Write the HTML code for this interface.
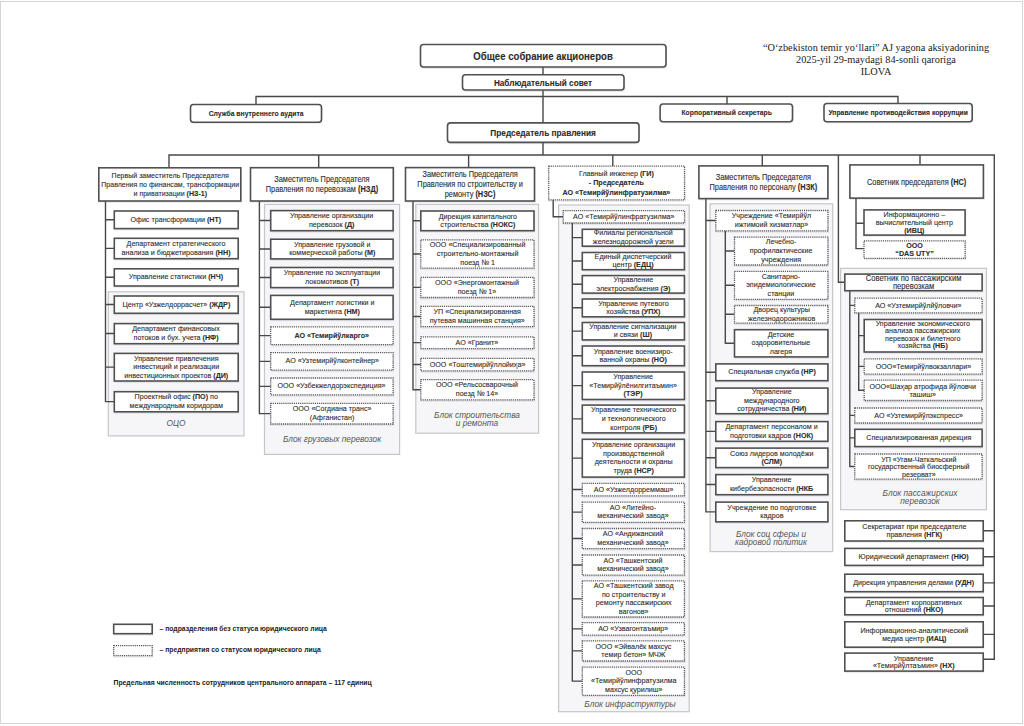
<!DOCTYPE html>
<html><head><meta charset="utf-8"><title>Org chart</title><style>
*{margin:0;padding:0;box-sizing:border-box}
html,body{width:1024px;height:726px;overflow:hidden;background:#fff}
body{position:relative;font-family:"Liberation Sans",sans-serif;color:#2e2e2e}
#pg{position:absolute;left:0;top:1px;width:1023px;height:723px;border:1px solid #d4d4d4;border-top-width:1.5px}
.l{position:absolute}
#sv{position:absolute;left:0;top:0}
.g{fill:#f6f6f8;stroke:#c6c6ca;stroke-width:1.2}
.ln{fill:none;stroke:#484848;stroke-width:1.4}
.sh{fill:rgba(90,90,130,0.13);stroke:none}
.bs,.br{fill:#fff;stroke:#505050;stroke-width:1.6}
.bd{fill:#fff;stroke:#5a5a5a;stroke-width:1.3;stroke-dasharray:1.2 0.9}
.gl{position:absolute;text-align:center;font-style:italic;font-size:8px;color:#555;white-space:nowrap}
.b{position:absolute;display:flex;align-items:center;justify-content:center}
.t{text-align:center;white-space:nowrap;color:#2a2a2a;-webkit-text-stroke:0.12px #444}
.t b{font-weight:bold}
.lg{position:absolute;font-size:6.8px;font-weight:bold;white-space:nowrap;color:#222;line-height:8px}
.sf{position:absolute;font-family:"Liberation Serif",serif;font-size:10.3px;line-height:12px;text-align:center;white-space:nowrap;color:#222}
</style></head><body><div id="pg"></div>
<svg id="sv" width="1024" height="726" viewBox="0 0 1024 726"><rect x="108.30" y="291.80" width="135.70" height="144.10" class="g"/><rect x="264.50" y="204.40" width="135.10" height="250.00" class="g"/><rect x="415.80" y="204.40" width="122.80" height="228.80" class="g"/><rect x="558.60" y="205.00" width="130.60" height="506.70" class="g"/><rect x="710.10" y="203.80" width="122.60" height="347.80" class="g"/><rect x="840.60" y="268.30" width="145.90" height="241.40" class="g"/><path class="ln" d="M543.00 66.40V74.60M543.00 89.40V123.00M543.00 142.10V155.60M255.40 96.50H898.60M256.00 95.90V104.60M727.00 95.90V104.10M898.00 95.90V103.60M168.40 155.00H994.90M169.00 154.40V167.90M318.70 154.40V167.80M468.60 154.40V167.70M612.80 154.40V166.20M762.30 154.40V166.00M920.00 154.40V165.00M105.50 200.70V402.30M104.90 219.70H114.40M104.90 248.40H114.40M104.90 277.30H114.40M104.90 304.55H114.40M104.90 333.55H114.40M104.90 367.10H114.40M104.90 401.65H114.40M259.40 200.70V414.20M258.80 220.55H270.80M258.80 248.95H270.80M258.80 277.45H270.80M258.80 307.25H270.80M258.80 335.65H270.80M258.80 361.35H270.80M258.80 386.35H270.80M258.80 413.60H270.80M413.00 200.70V390.30M412.40 220.75H420.90M412.40 253.95H420.90M412.40 287.35H420.90M412.40 316.45H420.90M412.40 342.65H420.90M412.40 364.50H420.90M412.40 389.70H420.90M553.20 199.60V217.30M552.60 216.70H563.30M572.30 222.70V681.70M571.70 237.65H582.40M571.70 261.00H582.40M571.70 284.25H582.40M571.70 307.80H582.40M571.70 331.10H582.40M571.70 355.75H582.40M571.70 385.65H582.40M571.70 418.90H582.40M571.70 458.10H582.40M571.70 489.50H582.40M571.70 512.10H582.40M571.70 538.50H582.40M571.70 565.00H582.40M571.70 598.85H582.40M571.70 628.85H582.40M571.70 650.85H582.40M571.70 681.10H582.40M705.90 198.30V512.45M705.30 220.50H715.90M725.30 230.50V343.60M724.70 250.95H734.60M724.70 285.20H734.60M724.70 314.25H734.60M724.70 343.20H734.60M705.30 372.20H715.90M705.30 400.80H715.90M705.30 431.35H715.90M705.30 457.75H715.90M705.30 484.55H715.90M705.30 511.85H715.90M838.40 154.40V282.90M837.80 282.30H844.90M994.30 154.40V659.80M856.00 197.80V249.20M855.40 223.30H864.10M855.40 248.60H864.10M849.80 290.40V466.90M858.70 312.50V390.85M849.20 305.35H854.90M849.20 415.40H854.90M849.20 437.85H854.90M849.20 466.50H854.90M858.10 335.65H864.30M858.10 366.35H864.30M858.10 390.25H864.30M983.10 530.80H994.90M983.10 556.80H994.90M983.10 582.85H994.90M983.10 606.05H994.90M983.10 634.40H994.90M983.10 659.20H994.90"/><rect x="420.60" y="45.60" width="246.50" height="23.30" class="sh" rx="3"/><rect x="420.50" y="44.50" width="245.50" height="22.50" class="br" rx="3"/><rect x="462.60" y="75.90" width="162.50" height="16.00" class="sh" rx="3"/><rect x="462.50" y="74.80" width="161.50" height="15.20" class="br" rx="3"/><rect x="190.60" y="105.60" width="132.00" height="18.50" class="sh" rx="3"/><rect x="190.50" y="104.50" width="131.00" height="17.70" class="br" rx="3"/><rect x="660.20" y="105.10" width="133.40" height="18.50" class="sh" rx="3"/><rect x="660.10" y="104.00" width="132.40" height="17.70" class="br" rx="3"/><rect x="824.10" y="104.60" width="149.20" height="19.00" class="sh" rx="3"/><rect x="824.00" y="103.50" width="148.20" height="18.20" class="br" rx="3"/><rect x="447.60" y="124.00" width="192.50" height="20.30" class="sh" rx="3"/><rect x="447.50" y="122.90" width="191.50" height="19.50" class="br" rx="3"/><rect x="114.40" y="212.10" width="124.90" height="18.40" class="sh"/><rect x="114.30" y="211.00" width="123.90" height="17.60" class="bs"/><rect x="114.40" y="239.40" width="124.90" height="21.20" class="sh"/><rect x="114.30" y="238.30" width="123.90" height="20.40" class="bs"/><rect x="114.40" y="269.90" width="124.90" height="18.00" class="sh"/><rect x="114.30" y="268.80" width="123.90" height="17.20" class="bs"/><rect x="114.40" y="297.10" width="124.90" height="18.10" class="sh"/><rect x="114.30" y="296.00" width="123.90" height="17.30" class="bs"/><rect x="114.40" y="324.70" width="124.90" height="20.90" class="sh"/><rect x="114.30" y="323.60" width="123.90" height="20.10" class="bs"/><rect x="114.40" y="354.50" width="124.90" height="28.40" class="sh"/><rect x="114.30" y="353.40" width="123.90" height="27.60" class="bs"/><rect x="114.40" y="392.80" width="124.90" height="20.90" class="sh"/><rect x="114.30" y="391.70" width="123.90" height="20.10" class="bs"/><rect x="98.90" y="168.90" width="143.00" height="34.00" class="sh"/><rect x="98.80" y="167.80" width="142.00" height="33.20" class="bs"/><rect x="270.80" y="211.70" width="123.40" height="20.90" class="sh"/><rect x="270.70" y="210.60" width="122.40" height="20.10" class="bs"/><rect x="270.80" y="240.30" width="123.40" height="20.50" class="sh"/><rect x="270.70" y="239.20" width="122.40" height="19.70" class="bs"/><rect x="270.80" y="268.60" width="123.40" height="20.90" class="sh"/><rect x="270.70" y="267.50" width="122.40" height="20.10" class="bs"/><rect x="270.80" y="296.50" width="123.40" height="24.70" class="sh"/><rect x="270.70" y="295.40" width="122.40" height="23.90" class="bs"/><rect x="270.80" y="328.00" width="123.40" height="18.50" class="sh"/><rect x="270.70" y="326.90" width="122.40" height="17.70" class="bd"/><rect x="270.80" y="353.80" width="123.40" height="18.30" class="sh"/><rect x="270.70" y="352.70" width="122.40" height="17.50" class="bd"/><rect x="270.80" y="379.10" width="123.40" height="17.70" class="sh"/><rect x="270.70" y="378.00" width="122.40" height="16.90" class="bd"/><rect x="270.80" y="404.50" width="123.40" height="21.40" class="sh"/><rect x="270.70" y="403.40" width="122.40" height="20.60" class="bd"/><rect x="250.60" y="168.80" width="143.80" height="34.10" class="sh"/><rect x="250.50" y="167.70" width="142.80" height="33.30" class="bs"/><rect x="420.90" y="212.10" width="114.20" height="20.50" class="sh"/><rect x="420.80" y="211.00" width="113.20" height="19.70" class="bs"/><rect x="420.90" y="241.00" width="114.20" height="29.10" class="sh"/><rect x="420.80" y="239.90" width="113.20" height="28.30" class="bd"/><rect x="420.90" y="278.50" width="114.20" height="20.90" class="sh"/><rect x="420.80" y="277.40" width="113.20" height="20.10" class="bd"/><rect x="420.90" y="307.50" width="114.20" height="21.10" class="sh"/><rect x="420.80" y="306.40" width="113.20" height="20.30" class="bd"/><rect x="420.90" y="337.90" width="114.20" height="12.70" class="sh"/><rect x="420.80" y="336.80" width="113.20" height="11.90" class="bd"/><rect x="420.90" y="359.50" width="114.20" height="13.20" class="sh"/><rect x="420.80" y="358.40" width="113.20" height="12.40" class="bd"/><rect x="420.90" y="380.80" width="114.20" height="21.00" class="sh"/><rect x="420.80" y="379.70" width="113.20" height="20.20" class="bd"/><rect x="405.60" y="168.70" width="130.00" height="34.20" class="sh"/><rect x="405.50" y="167.60" width="129.00" height="33.40" class="bs"/><rect x="563.30" y="211.70" width="122.30" height="13.20" class="sh"/><rect x="563.20" y="210.60" width="121.30" height="12.40" class="bd"/><rect x="582.40" y="230.40" width="103.10" height="17.70" class="sh"/><rect x="582.30" y="229.30" width="102.10" height="16.90" class="bs"/><rect x="582.40" y="253.60" width="103.10" height="18.00" class="sh"/><rect x="582.30" y="252.50" width="102.10" height="17.20" class="bs"/><rect x="582.40" y="276.70" width="103.10" height="18.30" class="sh"/><rect x="582.30" y="275.60" width="102.10" height="17.50" class="bs"/><rect x="582.40" y="300.10" width="103.10" height="18.60" class="sh"/><rect x="582.30" y="299.00" width="102.10" height="17.80" class="bs"/><rect x="582.40" y="323.60" width="103.10" height="18.20" class="sh"/><rect x="582.30" y="322.50" width="102.10" height="17.40" class="bs"/><rect x="582.40" y="347.10" width="103.10" height="20.50" class="sh"/><rect x="582.30" y="346.00" width="102.10" height="19.70" class="bs"/><rect x="582.40" y="373.10" width="103.10" height="28.30" class="sh"/><rect x="582.30" y="372.00" width="102.10" height="27.50" class="bs"/><rect x="582.40" y="406.20" width="103.10" height="28.60" class="sh"/><rect x="582.30" y="405.10" width="102.10" height="27.80" class="bs"/><rect x="582.40" y="440.40" width="103.10" height="38.60" class="sh"/><rect x="582.30" y="439.30" width="102.10" height="37.80" class="bs"/><rect x="582.40" y="484.50" width="103.10" height="13.20" class="sh"/><rect x="582.30" y="483.40" width="102.10" height="12.40" class="bd"/><rect x="582.40" y="503.20" width="103.10" height="21.00" class="sh"/><rect x="582.30" y="502.10" width="102.10" height="20.20" class="bd"/><rect x="582.40" y="529.60" width="103.10" height="21.00" class="sh"/><rect x="582.30" y="528.50" width="102.10" height="20.20" class="bd"/><rect x="582.40" y="556.10" width="103.10" height="21.00" class="sh"/><rect x="582.30" y="555.00" width="102.10" height="20.20" class="bd"/><rect x="582.40" y="582.00" width="103.10" height="36.90" class="sh"/><rect x="582.30" y="580.90" width="102.10" height="36.10" class="bd"/><rect x="582.40" y="623.80" width="103.10" height="13.30" class="sh"/><rect x="582.30" y="622.70" width="102.10" height="12.50" class="bd"/><rect x="582.40" y="642.00" width="103.10" height="20.90" class="sh"/><rect x="582.30" y="640.90" width="102.10" height="20.10" class="bd"/><rect x="582.40" y="668.20" width="103.10" height="29.00" class="sh"/><rect x="582.30" y="667.10" width="102.10" height="28.20" class="bd"/><rect x="548.80" y="167.20" width="136.80" height="34.60" class="sh"/><rect x="548.70" y="166.10" width="135.80" height="33.80" class="bd"/><rect x="715.90" y="211.60" width="113.10" height="21.10" class="sh"/><rect x="715.80" y="210.50" width="112.10" height="20.30" class="bd"/><rect x="734.60" y="238.20" width="94.40" height="28.70" class="sh"/><rect x="734.50" y="237.10" width="93.40" height="27.90" class="bd"/><rect x="734.60" y="272.40" width="94.40" height="28.80" class="sh"/><rect x="734.50" y="271.30" width="93.40" height="28.00" class="bd"/><rect x="734.60" y="306.60" width="94.40" height="18.50" class="sh"/><rect x="734.50" y="305.50" width="93.40" height="17.70" class="bd"/><rect x="734.60" y="330.80" width="94.40" height="28.00" class="sh"/><rect x="734.50" y="329.70" width="93.40" height="27.20" class="bs"/><rect x="715.90" y="365.00" width="113.10" height="17.60" class="sh"/><rect x="715.80" y="363.90" width="112.10" height="16.80" class="bs"/><rect x="715.90" y="389.20" width="113.10" height="26.40" class="sh"/><rect x="715.80" y="388.10" width="112.10" height="25.60" class="bs"/><rect x="715.90" y="422.70" width="113.10" height="20.50" class="sh"/><rect x="715.80" y="421.60" width="112.10" height="19.70" class="bs"/><rect x="715.90" y="449.20" width="113.10" height="20.30" class="sh"/><rect x="715.80" y="448.10" width="112.10" height="19.50" class="bs"/><rect x="715.90" y="475.70" width="113.10" height="20.90" class="sh"/><rect x="715.80" y="474.60" width="112.10" height="20.10" class="bs"/><rect x="715.90" y="503.20" width="113.10" height="20.50" class="sh"/><rect x="715.80" y="502.10" width="112.10" height="19.70" class="bs"/><rect x="699.00" y="167.00" width="130.00" height="33.50" class="sh"/><rect x="698.90" y="165.90" width="129.00" height="32.70" class="bs"/><rect x="850.00" y="166.00" width="134.50" height="34.00" class="sh"/><rect x="849.90" y="164.90" width="133.50" height="33.20" class="bs"/><rect x="864.10" y="211.00" width="102.10" height="26.00" class="sh"/><rect x="864.00" y="209.90" width="101.10" height="25.20" class="bs"/><rect x="864.10" y="241.90" width="102.10" height="18.30" class="sh"/><rect x="864.00" y="240.80" width="101.10" height="17.50" class="bd"/><rect x="844.90" y="275.20" width="138.30" height="17.40" class="sh"/><rect x="844.80" y="274.10" width="137.30" height="16.60" class="bs"/><rect x="854.90" y="299.20" width="128.30" height="15.50" class="sh"/><rect x="854.80" y="298.10" width="127.30" height="14.70" class="bd"/><rect x="854.90" y="409.10" width="128.30" height="15.80" class="sh"/><rect x="854.80" y="408.00" width="127.30" height="15.00" class="bd"/><rect x="854.90" y="430.40" width="128.30" height="18.10" class="sh"/><rect x="854.80" y="429.30" width="127.30" height="17.30" class="bs"/><rect x="854.90" y="455.10" width="128.30" height="26.00" class="sh"/><rect x="854.80" y="454.00" width="127.30" height="25.20" class="bd"/><rect x="864.30" y="320.60" width="118.90" height="33.30" class="sh"/><rect x="864.20" y="319.50" width="117.90" height="32.50" class="bs"/><rect x="864.30" y="359.90" width="118.90" height="16.10" class="sh"/><rect x="864.20" y="358.80" width="117.90" height="15.30" class="bd"/><rect x="864.30" y="381.30" width="118.90" height="21.10" class="sh"/><rect x="864.20" y="380.20" width="117.90" height="20.30" class="bd"/><rect x="844.90" y="521.90" width="139.40" height="21.00" class="sh"/><rect x="844.80" y="520.80" width="138.40" height="20.20" class="bs"/><rect x="844.90" y="549.50" width="139.40" height="17.80" class="sh"/><rect x="844.80" y="548.40" width="138.40" height="17.00" class="bs"/><rect x="844.90" y="575.30" width="139.40" height="18.30" class="sh"/><rect x="844.80" y="574.20" width="138.40" height="17.50" class="bs"/><rect x="844.90" y="598.60" width="139.40" height="18.10" class="sh"/><rect x="844.80" y="597.50" width="138.40" height="17.30" class="bs"/><rect x="844.90" y="622.90" width="139.40" height="26.20" class="sh"/><rect x="844.80" y="621.80" width="138.40" height="25.40" class="bs"/><rect x="844.90" y="654.20" width="139.40" height="18.80" class="sh"/><rect x="844.80" y="653.10" width="138.40" height="18.00" class="bs"/><rect x="113.80" y="625.40" width="39.50" height="10.20" class="sh"/><rect x="113.70" y="624.30" width="38.50" height="9.40" class="bs"/><rect x="113.80" y="646.80" width="39.50" height="10.80" class="sh"/><rect x="113.70" y="645.70" width="38.50" height="10.00" class="bd"/></svg>
<div class="b" style="left:420.00px;top:44.00px;width:246.50px;height:23.30px;"><div class="t" style="font-size:10.752px;line-height:11px;font-weight:bold;position:relative;top:0.40px;transform:scaleX(0.8928571428571428);"><div>Общее собрание акционеров</div></div></div>
<div class="b" style="left:462.00px;top:74.30px;width:162.50px;height:16.00px;"><div class="t" style="font-size:9.184px;line-height:10px;font-weight:bold;position:relative;top:0.40px;transform:scaleX(0.8928571428571428);"><div>Наблюдательный совет</div></div></div>
<div class="b" style="left:190.00px;top:104.00px;width:132.00px;height:18.50px;"><div class="t" style="font-size:7.6160000000000005px;line-height:8px;font-weight:bold;position:relative;top:0.40px;transform:scaleX(0.8928571428571428);"><div>Служба внутреннего аудита</div></div></div>
<div class="b" style="left:659.60px;top:103.50px;width:133.40px;height:18.50px;"><div class="t" style="font-size:7.6160000000000005px;line-height:8px;font-weight:bold;position:relative;top:0.40px;transform:scaleX(0.8928571428571428);"><div>Корпоративный секретарь</div></div></div>
<div class="b" style="left:823.50px;top:103.00px;width:149.20px;height:19.00px;"><div class="t" style="font-size:7.6160000000000005px;line-height:8px;font-weight:bold;position:relative;top:0.40px;transform:scaleX(0.8928571428571428);"><div>Управление противодействия коррупции</div></div></div>
<div class="b" style="left:447.00px;top:122.40px;width:192.50px;height:20.30px;"><div class="t" style="font-size:9.296000000000001px;line-height:10px;font-weight:bold;position:relative;top:0.40px;transform:scaleX(0.8928571428571428);"><div>Председатель правления</div></div></div>
<div class="gl" style="left:96px;top:418.60px;width:160px;line-height:8.2px;font-size:9.30px;transform:scaleX(0.8929)"><div>ОЦО</div></div>
<div class="b" style="left:113.80px;top:210.50px;width:124.90px;height:18.40px;"><div class="t" style="font-size:8.008000000000001px;line-height:8.6px;position:relative;top:0.40px;transform:scaleX(0.8928571428571428);"><div>Офис трансформации <b>(НТ)</b></div></div></div>
<div class="b" style="left:113.80px;top:237.80px;width:124.90px;height:21.20px;"><div class="t" style="font-size:8.008000000000001px;line-height:8.6px;position:relative;top:0.40px;transform:scaleX(0.8928571428571428);"><div>Департамент стратегического</div><div>анализа и бюджетирования <b>(НН)</b></div></div></div>
<div class="b" style="left:113.80px;top:268.30px;width:124.90px;height:18.00px;"><div class="t" style="font-size:8.008000000000001px;line-height:8.6px;position:relative;top:0.40px;transform:scaleX(0.8928571428571428);"><div>Управление статистики <b>(НЧ)</b></div></div></div>
<div class="b" style="left:113.80px;top:295.50px;width:124.90px;height:18.10px;"><div class="t" style="font-size:8.008000000000001px;line-height:8.6px;position:relative;top:0.40px;transform:scaleX(0.8928571428571428);"><div>Центр «Узжелдоррасчет» <b>(ЖДР)</b></div></div></div>
<div class="b" style="left:113.80px;top:323.10px;width:124.90px;height:20.90px;"><div class="t" style="font-size:8.008000000000001px;line-height:8.6px;position:relative;top:0.40px;transform:scaleX(0.8928571428571428);"><div>Департамент финансовых</div><div>потоков и бух. учета <b>(НФ)</b></div></div></div>
<div class="b" style="left:113.80px;top:352.90px;width:124.90px;height:28.40px;"><div class="t" style="font-size:8.008000000000001px;line-height:8.6px;position:relative;top:0.40px;transform:scaleX(0.8928571428571428);"><div>Управление привлечения</div><div>инвестиций и реализации</div><div>инвестиционных проектов <b>(ДИ)</b></div></div></div>
<div class="b" style="left:113.80px;top:391.20px;width:124.90px;height:20.90px;"><div class="t" style="font-size:8.008000000000001px;line-height:8.6px;position:relative;top:0.40px;transform:scaleX(0.8928571428571428);"><div>Проектный офис <b>(ПО)</b> по</div><div>международным коридорам</div></div></div>
<div class="b" style="left:98.30px;top:167.30px;width:143.00px;height:34.00px;"><div class="t" style="font-size:7.896000000000001px;line-height:9.1px;position:relative;top:0.40px;transform:scaleX(0.8928571428571428);"><div>Первый заместитель Председателя</div><div>Правления по финансам, трансформации</div><div>и приватизации <b>(НЗ-1)</b></div></div></div>
<div class="gl" style="left:251.5px;top:434.90px;width:160px;line-height:8.2px;font-size:9.30px;transform:scaleX(0.8929)"><div>Блок грузовых перевозок</div></div>
<div class="b" style="left:270.20px;top:210.10px;width:123.40px;height:20.90px;"><div class="t" style="font-size:8.008000000000001px;line-height:8.6px;position:relative;top:0.40px;transform:scaleX(0.8928571428571428);"><div>Управление организации</div><div>перевозок <b>(Д)</b></div></div></div>
<div class="b" style="left:270.20px;top:238.70px;width:123.40px;height:20.50px;"><div class="t" style="font-size:8.008000000000001px;line-height:8.6px;position:relative;top:0.40px;transform:scaleX(0.8928571428571428);"><div>Управление грузовой и</div><div>коммерческой работы <b>(М)</b></div></div></div>
<div class="b" style="left:270.20px;top:267.00px;width:123.40px;height:20.90px;"><div class="t" style="font-size:8.008000000000001px;line-height:8.6px;position:relative;top:0.40px;transform:scaleX(0.8928571428571428);"><div>Управление по эксплуатации</div><div>локомотивов <b>(Т)</b></div></div></div>
<div class="b" style="left:270.20px;top:294.90px;width:123.40px;height:24.70px;"><div class="t" style="font-size:8.008000000000001px;line-height:8.6px;position:relative;top:0.40px;transform:scaleX(0.8928571428571428);"><div>Департамент логистики и</div><div>маркетинга <b>(НМ)</b></div></div></div>
<div class="b" style="left:270.20px;top:326.40px;width:123.40px;height:18.50px;"><div class="t" style="font-size:8.008000000000001px;line-height:8.6px;font-weight:bold;position:relative;top:0.40px;transform:scaleX(0.8928571428571428);"><div>АО «Темирйўлкарго»</div></div></div>
<div class="b" style="left:270.20px;top:352.20px;width:123.40px;height:18.30px;"><div class="t" style="font-size:8.008000000000001px;line-height:8.6px;position:relative;top:0.40px;transform:scaleX(0.8928571428571428);"><div>АО «Узтемирйўлконтейнер»</div></div></div>
<div class="b" style="left:270.20px;top:377.50px;width:123.40px;height:17.70px;"><div class="t" style="font-size:8.008000000000001px;line-height:8.6px;position:relative;top:0.40px;transform:scaleX(0.8928571428571428);"><div>ООО «Узбекжелдорэкспедиция»</div></div></div>
<div class="b" style="left:270.20px;top:402.90px;width:123.40px;height:21.40px;"><div class="t" style="font-size:8.008000000000001px;line-height:8.6px;position:relative;top:0.40px;transform:scaleX(0.8928571428571428);"><div>ООО «Согдиана транс»</div><div>(Афганистан)</div></div></div>
<div class="b" style="left:250.00px;top:167.20px;width:143.80px;height:34.10px;"><div class="t" style="font-size:8.288000000000002px;line-height:9.9px;position:relative;top:0.40px;transform:scaleX(0.8928571428571428);"><div>Заместитель Председателя</div><div>Правления по перевозкам <b>(НЗД)</b></div></div></div>
<div class="gl" style="left:396.6px;top:411.20px;width:160px;line-height:8.2px;font-size:9.30px;transform:scaleX(0.8929)"><div>Блок строительства</div><div>и ремонта</div></div>
<div class="b" style="left:420.30px;top:210.50px;width:114.20px;height:20.50px;"><div class="t" style="font-size:8.008000000000001px;line-height:8.6px;position:relative;top:0.40px;transform:scaleX(0.8928571428571428);"><div>Дирекция капитального</div><div>строительства <b>(НОКС)</b></div></div></div>
<div class="b" style="left:420.30px;top:239.40px;width:114.20px;height:29.10px;"><div class="t" style="font-size:8.008000000000001px;line-height:8.6px;position:relative;top:0.40px;transform:scaleX(0.8928571428571428);"><div>ООО «Специализированный</div><div>строительно-монтажный</div><div>поезд № 1</div></div></div>
<div class="b" style="left:420.30px;top:276.90px;width:114.20px;height:20.90px;"><div class="t" style="font-size:8.008000000000001px;line-height:8.6px;position:relative;top:0.40px;transform:scaleX(0.8928571428571428);"><div>ООО «Энергомонтажный</div><div>поезд № 1»</div></div></div>
<div class="b" style="left:420.30px;top:305.90px;width:114.20px;height:21.10px;"><div class="t" style="font-size:8.008000000000001px;line-height:8.6px;position:relative;top:0.40px;transform:scaleX(0.8928571428571428);"><div>УП «Специализированная</div><div>путевая машинная станция»</div></div></div>
<div class="b" style="left:420.30px;top:336.30px;width:114.20px;height:12.70px;"><div class="t" style="font-size:8.008000000000001px;line-height:8.6px;position:relative;top:0.40px;transform:scaleX(0.8928571428571428);"><div>АО «Гранит»</div></div></div>
<div class="b" style="left:420.30px;top:357.90px;width:114.20px;height:13.20px;"><div class="t" style="font-size:8.008000000000001px;line-height:8.6px;position:relative;top:0.40px;transform:scaleX(0.8928571428571428);"><div>ООО «Тоштемирйўллойиҳа»</div></div></div>
<div class="b" style="left:420.30px;top:379.20px;width:114.20px;height:21.00px;"><div class="t" style="font-size:8.008000000000001px;line-height:8.6px;position:relative;top:0.40px;transform:scaleX(0.8928571428571428);"><div>ООО «Рельсосварочный</div><div>поезд № 14»</div></div></div>
<div class="b" style="left:405.00px;top:167.10px;width:130.00px;height:34.20px;"><div class="t" style="font-size:8.288000000000002px;line-height:10px;position:relative;top:0.40px;transform:scaleX(0.8928571428571428);"><div>Заместитель Председателя</div><div>Правления по строительству и</div><div>ремонту <b>(НЗС)</b></div></div></div>
<div class="gl" style="left:550px;top:699.50px;width:160px;line-height:8.2px;font-size:9.30px;transform:scaleX(0.8929)"><div>Блок инфраструктуры</div></div>
<div class="b" style="left:562.70px;top:210.10px;width:122.30px;height:13.20px;"><div class="t" style="font-size:8.008000000000001px;line-height:8.6px;position:relative;top:0.40px;transform:scaleX(0.8928571428571428);"><div>АО «Темирйўлинфратузилма»</div></div></div>
<div class="b" style="left:581.80px;top:228.80px;width:103.10px;height:17.70px;"><div class="t" style="font-size:8.008000000000001px;line-height:8.6px;position:relative;top:0.40px;transform:scaleX(0.8928571428571428);"><div>Филиалы региональной</div><div>железнодорожной узели</div></div></div>
<div class="b" style="left:581.80px;top:252.00px;width:103.10px;height:18.00px;"><div class="t" style="font-size:8.008000000000001px;line-height:8.6px;position:relative;top:0.40px;transform:scaleX(0.8928571428571428);"><div>Единый диспетчерский</div><div>центр <b>(ЕДЦ)</b></div></div></div>
<div class="b" style="left:581.80px;top:275.10px;width:103.10px;height:18.30px;"><div class="t" style="font-size:8.008000000000001px;line-height:8.6px;position:relative;top:0.40px;transform:scaleX(0.8928571428571428);"><div>Управление</div><div>электроснабжения <b>(Э)</b></div></div></div>
<div class="b" style="left:581.80px;top:298.50px;width:103.10px;height:18.60px;"><div class="t" style="font-size:8.008000000000001px;line-height:8.6px;position:relative;top:0.40px;transform:scaleX(0.8928571428571428);"><div>Управление путевого</div><div>хозяйства <b>(УПХ)</b></div></div></div>
<div class="b" style="left:581.80px;top:322.00px;width:103.10px;height:18.20px;"><div class="t" style="font-size:8.008000000000001px;line-height:8.6px;position:relative;top:0.40px;transform:scaleX(0.8928571428571428);"><div>Управление сигнализации</div><div>и связи <b>(Ш)</b></div></div></div>
<div class="b" style="left:581.80px;top:345.50px;width:103.10px;height:20.50px;"><div class="t" style="font-size:8.008000000000001px;line-height:8.6px;position:relative;top:0.40px;transform:scaleX(0.8928571428571428);"><div>Управление военизиро-</div><div>ванной охраны <b>(НО)</b></div></div></div>
<div class="b" style="left:581.80px;top:371.50px;width:103.10px;height:28.30px;"><div class="t" style="font-size:8.008000000000001px;line-height:8.6px;position:relative;top:0.40px;transform:scaleX(0.8928571428571428);"><div>Управление</div><div>«Темирйўлёнилгитаъмин»</div><div><b>(ТЭР)</b></div></div></div>
<div class="b" style="left:581.80px;top:404.60px;width:103.10px;height:28.60px;"><div class="t" style="font-size:8.008000000000001px;line-height:8.6px;position:relative;top:0.40px;transform:scaleX(0.8928571428571428);"><div>Управление технического</div><div>и технологического</div><div>контроля <b>(РБ)</b></div></div></div>
<div class="b" style="left:581.80px;top:438.80px;width:103.10px;height:38.60px;"><div class="t" style="font-size:8.008000000000001px;line-height:8.6px;position:relative;top:0.40px;transform:scaleX(0.8928571428571428);"><div>Управление организации</div><div>производственной</div><div>деятельности и охраны</div><div>труда <b>(НСР)</b></div></div></div>
<div class="b" style="left:581.80px;top:482.90px;width:103.10px;height:13.20px;"><div class="t" style="font-size:8.008000000000001px;line-height:8.6px;position:relative;top:0.40px;transform:scaleX(0.8928571428571428);"><div>АО «Узжелдорреммаш»</div></div></div>
<div class="b" style="left:581.80px;top:501.60px;width:103.10px;height:21.00px;"><div class="t" style="font-size:8.008000000000001px;line-height:8.6px;position:relative;top:0.40px;transform:scaleX(0.8928571428571428);"><div>АО «Литейно-</div><div>механический завод»</div></div></div>
<div class="b" style="left:581.80px;top:528.00px;width:103.10px;height:21.00px;"><div class="t" style="font-size:8.008000000000001px;line-height:8.6px;position:relative;top:0.40px;transform:scaleX(0.8928571428571428);"><div>АО «Андижанский</div><div>механический завод»</div></div></div>
<div class="b" style="left:581.80px;top:554.50px;width:103.10px;height:21.00px;"><div class="t" style="font-size:8.008000000000001px;line-height:8.6px;position:relative;top:0.40px;transform:scaleX(0.8928571428571428);"><div>АО «Ташкентский</div><div>механический завод»</div></div></div>
<div class="b" style="left:581.80px;top:580.40px;width:103.10px;height:36.90px;"><div class="t" style="font-size:8.008000000000001px;line-height:8.6px;position:relative;top:0.40px;transform:scaleX(0.8928571428571428);"><div>АО «Ташкентский завод</div><div>по строительству и</div><div>ремонту пассажирских</div><div>вагонов»</div></div></div>
<div class="b" style="left:581.80px;top:622.20px;width:103.10px;height:13.30px;"><div class="t" style="font-size:8.008000000000001px;line-height:8.6px;position:relative;top:0.40px;transform:scaleX(0.8928571428571428);"><div>АО «Узвагонтаъмир»</div></div></div>
<div class="b" style="left:581.80px;top:640.40px;width:103.10px;height:20.90px;"><div class="t" style="font-size:8.008000000000001px;line-height:8.6px;position:relative;top:0.40px;transform:scaleX(0.8928571428571428);"><div>ООО «Эйвалёк махсус</div><div>темир бетон» МЧЖ</div></div></div>
<div class="b" style="left:581.80px;top:666.60px;width:103.10px;height:29.00px;"><div class="t" style="font-size:8.008000000000001px;line-height:8.6px;position:relative;top:0.40px;transform:scaleX(0.8928571428571428);"><div>ООО</div><div>«Темирйўлинфратузилма</div><div>махсус қурилиш»</div></div></div>
<div class="b" style="left:548.20px;top:165.60px;width:136.80px;height:34.60px;"><div class="t" style="font-size:8.008000000000001px;line-height:9.6px;position:relative;top:0.40px;transform:scaleX(0.8928571428571428);"><div>Главный инженер <b>(ГИ)</b></div><div><b>- Председатель</b></div><div><b>АО «Темирйўлинфратузилма»</b></div></div></div>
<div class="gl" style="left:691px;top:529.60px;width:160px;line-height:8.2px;font-size:9.30px;transform:scaleX(0.8929)"><div>Блок соц сферы и</div><div>кадровой политик</div></div>
<div class="b" style="left:715.30px;top:210.00px;width:113.10px;height:21.10px;"><div class="t" style="font-size:8.008000000000001px;line-height:8.6px;position:relative;top:0.40px;transform:scaleX(0.8928571428571428);"><div>Учреждение «Темирйўл</div><div>ижтимоий хизматлар»</div></div></div>
<div class="b" style="left:734.00px;top:236.60px;width:94.40px;height:28.70px;"><div class="t" style="font-size:8.008000000000001px;line-height:8.6px;position:relative;top:0.40px;transform:scaleX(0.8928571428571428);"><div>Лечебно-</div><div>профилактические</div><div>учреждения</div></div></div>
<div class="b" style="left:734.00px;top:270.80px;width:94.40px;height:28.80px;"><div class="t" style="font-size:8.008000000000001px;line-height:8.6px;position:relative;top:0.40px;transform:scaleX(0.8928571428571428);"><div>Санитарно-</div><div>эпидемиологические</div><div>станции</div></div></div>
<div class="b" style="left:734.00px;top:305.00px;width:94.40px;height:18.50px;"><div class="t" style="font-size:8.008000000000001px;line-height:8.6px;position:relative;top:0.40px;transform:scaleX(0.8928571428571428);"><div>Дворец культуры</div><div>железнодорожников</div></div></div>
<div class="b" style="left:734.00px;top:329.20px;width:94.40px;height:28.00px;"><div class="t" style="font-size:8.008000000000001px;line-height:8.6px;position:relative;top:0.40px;transform:scaleX(0.8928571428571428);"><div>Детские</div><div>оздоровительные</div><div>лагеря</div></div></div>
<div class="b" style="left:715.30px;top:363.40px;width:113.10px;height:17.60px;"><div class="t" style="font-size:8.008000000000001px;line-height:8.6px;position:relative;top:0.40px;transform:scaleX(0.8928571428571428);"><div>Специальная служба <b>(НР)</b></div></div></div>
<div class="b" style="left:715.30px;top:387.60px;width:113.10px;height:26.40px;"><div class="t" style="font-size:8.008000000000001px;line-height:8.6px;position:relative;top:0.40px;transform:scaleX(0.8928571428571428);"><div>Управление</div><div>международного</div><div>сотрудничества <b>(НИ)</b></div></div></div>
<div class="b" style="left:715.30px;top:421.10px;width:113.10px;height:20.50px;"><div class="t" style="font-size:8.008000000000001px;line-height:8.6px;position:relative;top:0.40px;transform:scaleX(0.8928571428571428);"><div>Департамент персоналом и</div><div>подготовки кадров <b>(НОК)</b></div></div></div>
<div class="b" style="left:715.30px;top:447.60px;width:113.10px;height:20.30px;"><div class="t" style="font-size:8.008000000000001px;line-height:8.6px;position:relative;top:0.40px;transform:scaleX(0.8928571428571428);"><div>Союз лидеров молодёжи</div><div><b>(СЛМ)</b></div></div></div>
<div class="b" style="left:715.30px;top:474.10px;width:113.10px;height:20.90px;"><div class="t" style="font-size:8.008000000000001px;line-height:8.6px;position:relative;top:0.40px;transform:scaleX(0.8928571428571428);"><div>Управление</div><div>кибербезопасности <b>(НКБ</b></div></div></div>
<div class="b" style="left:715.30px;top:501.60px;width:113.10px;height:20.50px;"><div class="t" style="font-size:8.008000000000001px;line-height:8.6px;position:relative;top:0.40px;transform:scaleX(0.8928571428571428);"><div>Учреждение по подготовке</div><div>кадров</div></div></div>
<div class="b" style="left:698.40px;top:165.40px;width:130.00px;height:33.50px;"><div class="t" style="font-size:8.288000000000002px;line-height:9.9px;position:relative;top:0.40px;transform:scaleX(0.8928571428571428);"><div>Заместитель Председателя</div><div>Правления по персоналу <b>(НЗК)</b></div></div></div>
<div class="b" style="left:849.40px;top:164.40px;width:134.50px;height:34.00px;"><div class="t" style="font-size:8.288000000000002px;line-height:8.6px;position:relative;top:1.60px;transform:scaleX(0.8928571428571428);"><div>Советник председателя <b>(НС)</b></div></div></div>
<div class="b" style="left:863.50px;top:209.40px;width:102.10px;height:26.00px;"><div class="t" style="font-size:8.008000000000001px;line-height:7.6px;position:relative;top:0.40px;transform:scaleX(0.8928571428571428);"><div>Информационно –</div><div>вычислительный центр</div><div><b>(ИВЦ)</b></div></div></div>
<div class="b" style="left:863.50px;top:240.30px;width:102.10px;height:18.30px;"><div class="t" style="font-size:8.008000000000001px;line-height:7.6px;font-weight:bold;position:relative;top:0.40px;transform:scaleX(0.8928571428571428);"><div>ООО</div><div>“DAS UTY”</div></div></div>
<div class="gl" style="left:840.4px;top:488.80px;width:160px;line-height:8.2px;font-size:9.30px;transform:scaleX(0.8929)"><div>Блок пассажирских</div><div>перевозок</div></div>
<div class="b" style="left:844.30px;top:273.60px;width:138.30px;height:17.40px;"><div class="t" style="font-size:8.512px;line-height:7.6px;position:relative;top:0.40px;transform:scaleX(0.8928571428571428);"><div>Советник по пассажирским</div><div>перевозкам</div></div></div>
<div class="b" style="left:854.30px;top:297.60px;width:128.30px;height:15.50px;"><div class="t" style="font-size:8.008000000000001px;line-height:7.8px;position:relative;top:0.40px;transform:scaleX(0.8928571428571428);"><div>АО «Узтемирйўлйўловчи»</div></div></div>
<div class="b" style="left:854.30px;top:407.50px;width:128.30px;height:15.80px;"><div class="t" style="font-size:8.008000000000001px;line-height:7.8px;position:relative;top:0.40px;transform:scaleX(0.8928571428571428);"><div>АО «Узтемирйўлэкспресс»</div></div></div>
<div class="b" style="left:854.30px;top:428.80px;width:128.30px;height:18.10px;"><div class="t" style="font-size:8.008000000000001px;line-height:7.8px;position:relative;top:0.40px;transform:scaleX(0.8928571428571428);"><div>Специализированная дирекция</div></div></div>
<div class="b" style="left:854.30px;top:453.50px;width:128.30px;height:26.00px;"><div class="t" style="font-size:8.008000000000001px;line-height:7.4px;position:relative;top:0.40px;transform:scaleX(0.8928571428571428);"><div>УП «Угам-Чаткальский</div><div>государственный биосферный</div><div>резерват»</div></div></div>
<div class="b" style="left:863.70px;top:319.00px;width:118.90px;height:33.30px;"><div class="t" style="font-size:8.008000000000001px;line-height:7.4px;position:relative;top:-0.90px;transform:scaleX(0.8928571428571428);"><div>Управление экономического</div><div>анализа пассажирских</div><div>перевозок и билетного</div><div>хозяйства <b>(НБ)</b></div></div></div>
<div class="b" style="left:863.70px;top:358.30px;width:118.90px;height:16.10px;"><div class="t" style="font-size:8.008000000000001px;line-height:7.8px;position:relative;top:0.40px;transform:scaleX(0.8928571428571428);"><div>ООО«Темирйўлвокзаллари»</div></div></div>
<div class="b" style="left:863.70px;top:379.70px;width:118.90px;height:21.10px;"><div class="t" style="font-size:8.008000000000001px;line-height:7.8px;position:relative;top:0.40px;transform:scaleX(0.8928571428571428);"><div>ООО«Шаҳар атрофида йўловчи</div><div>ташиш»</div></div></div>
<div class="b" style="left:844.30px;top:520.30px;width:139.40px;height:21.00px;"><div class="t" style="font-size:8.008000000000001px;line-height:7.8px;position:relative;top:0.40px;transform:scaleX(0.8928571428571428);"><div>Секретариат при председателе</div><div>правления <b>(НГК)</b></div></div></div>
<div class="b" style="left:844.30px;top:547.90px;width:139.40px;height:17.80px;"><div class="t" style="font-size:8.008000000000001px;line-height:7.8px;position:relative;top:0.40px;transform:scaleX(0.8928571428571428);"><div>Юридический департамент <b>(НЮ)</b></div></div></div>
<div class="b" style="left:844.30px;top:573.70px;width:139.40px;height:18.30px;"><div class="t" style="font-size:8.008000000000001px;line-height:7.8px;position:relative;top:0.40px;transform:scaleX(0.8928571428571428);"><div>Дирекция управления делами <b>(УДН)</b></div></div></div>
<div class="b" style="left:844.30px;top:597.00px;width:139.40px;height:18.10px;"><div class="t" style="font-size:8.008000000000001px;line-height:7.8px;position:relative;top:0.40px;transform:scaleX(0.8928571428571428);"><div>Департамент корпоративных</div><div>отношений <b>(НКО)</b></div></div></div>
<div class="b" style="left:844.30px;top:621.30px;width:139.40px;height:26.20px;"><div class="t" style="font-size:8.008000000000001px;line-height:7.8px;position:relative;top:0.40px;transform:scaleX(0.8928571428571428);"><div>Информационно-аналитический</div><div>медиа центр <b>(ИАЦ)</b></div></div></div>
<div class="b" style="left:844.30px;top:652.60px;width:139.40px;height:18.80px;"><div class="t" style="font-size:8.008000000000001px;line-height:7.8px;position:relative;top:0.40px;transform:scaleX(0.8928571428571428);"><div>Управление</div><div>«Темирйўлтаъмин» <b>(НХ)</b></div></div></div>
<div class="lg" style="left:159.5px;top:625px">– подразделения без статуса юридического лица</div>
<div class="lg" style="left:159.5px;top:646.2px">– предприятия со статусом юридического лица</div>
<div class="lg" style="left:113.5px;top:678.6px">Предельная численность сотрудников центрального аппарата – 117 единиц</div>
<div class="sf" style="left:726px;top:41.5px;width:300px">“O‘zbekiston temir yo‘llari” AJ yagona aksiyadorining<br>2025-yil 29-maydagi 84-sonli qaroriga<br>ILOVA</div>
</body></html>
